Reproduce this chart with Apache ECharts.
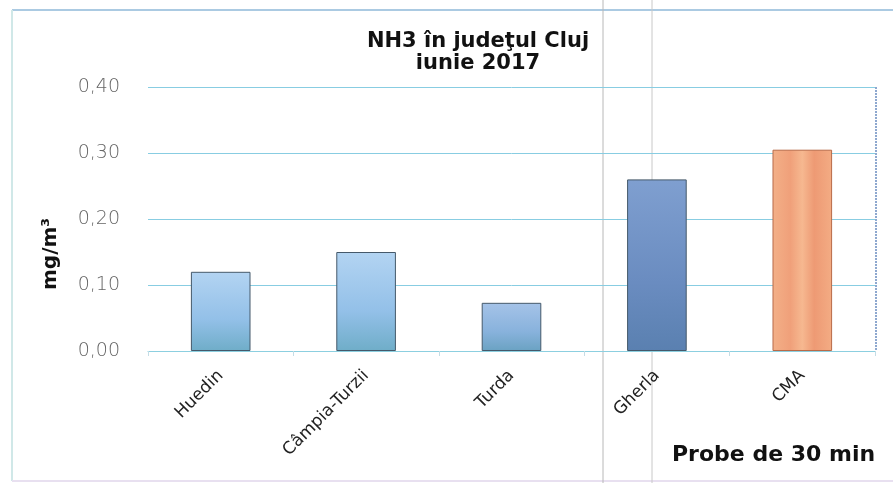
<!DOCTYPE html>
<html>
<head>
<meta charset="utf-8">
<script src="https://cdn.jsdelivr.net/npm/echarts@6/dist/echarts.min.js"></script>
<style>html,body{margin:0;padding:0;background:#fff}#c{width:893px;height:483px}</style>
</head>
<body>
<div id="c"></div>
<script>
const categories = ['Huedin', 'Câmpia-Turzii', 'Turda', 'Gherla', 'CMA'];
const values = [0.12, 0.15, 0.073, 0.26, 0.305];
const yTicks = [0, 0.1, 0.2, 0.3, 0.4];
const titleLines = ['NH3 în judeţul Cluj', 'iunie 2017'];
const yName = 'mg/m³';
const note = 'Probe de 30 min';

const grad = (c1, c2, c3) => new echarts.graphic.LinearGradient(0, 0, 0, 1, [
  {offset: 0, color: c1}, {offset: 0.6, color: c2}, {offset: 1, color: c3}
]);
const barStyles = [
  grad('#b3d4f2', '#93c0e8', '#6fadc8'),
  grad('#b3d4f2', '#93c0e8', '#6fadc8'),
  grad('#a5c3e8', '#88b2dc', '#6aa2c2'),
  grad('#7f9fd0', '#6a8cc0', '#5a80b0'),
  new echarts.graphic.LinearGradient(0, 0, 1, 0, [
    {offset: 0, color: '#f3b088'}, {offset: 0.3, color: '#f0a07a'}, {offset: 0.5, color: '#f6b890'},
    {offset: 0.7, color: '#ee9a74'}, {offset: 1, color: '#f3ac84'}
  ])
];

const chart = echarts.init(document.getElementById('c'));
chart.setOption({
  animation: false,
  backgroundColor: '#fff',
  title: {
    text: titleLines.join('\n'),
    left: 473, top: 26, textAlign: 'center',
    textStyle: {fontFamily: 'DejaVu Sans', fontSize: 21, fontWeight: 'bold', color: '#111', lineHeight: 22}
  },
  grid: {left: 148, right: 18, top: 87, bottom: 132},
  xAxis: {
    type: 'category', data: categories,
    axisLine: {lineStyle: {color: '#8ccfe0'}},
    axisTick: {show: true, lineStyle: {color: '#c4dde6'}},
    axisLabel: {rotate: 45, fontFamily: 'DejaVu Sans', fontSize: 17, color: '#222', margin: 22}
  },
  yAxis: {
    type: 'value', min: 0, max: 0.4, interval: 0.1,
    axisLine: {show: false}, axisTick: {show: false},
    axisLabel: {fontFamily: 'DejaVu Sans', fontSize: 19, fontWeight: 200, color: '#666', margin: 28,
      formatter: v => yTicks.includes(Math.round(v * 10) / 10) ? v.toFixed(2).replace('.', ',') : ''},
    splitLine: {lineStyle: {color: '#88cde2', width: 1}}
  },
  series: [{
    type: 'bar', barWidth: '41%',
    data: values.map((v, i) => ({value: v, itemStyle: {color: barStyles[i], borderColor: i === 4 ? '#b86a48' : '#45596a', borderWidth: 1}}))
  }],
  graphic: [
    {type: 'line', shape: {x1: 12, y1: 10, x2: 893, y2: 10}, style: {stroke: '#8fb8d8', lineWidth: 1.5}},
    {type: 'line', shape: {x1: 12, y1: 10, x2: 12, y2: 481}, style: {stroke: '#d0e8e8', lineWidth: 2}},
    {type: 'line', shape: {x1: 12, y1: 481, x2: 893, y2: 481}, style: {stroke: '#e8e0f0', lineWidth: 2}},
    {type: 'line', shape: {x1: 876, y1: 87, x2: 876, y2: 351}, style: {stroke: '#6a8cc0', lineWidth: 1.5, lineDash: [2, 1]}},
    {type: 'line', shape: {x1: 603, y1: 0, x2: 603, y2: 483}, style: {stroke: '#b8b8b8', lineWidth: 1}},
    {type: 'line', shape: {x1: 652, y1: 0, x2: 652, y2: 483}, style: {stroke: '#c8c8c8', lineWidth: 1}},
    {type: 'text', x: 51, y: 254, rotation: Math.PI / 2,
      style: {text: yName, font: 'bold 20px "DejaVu Sans"', fill: '#111', align: 'center', verticalAlign: 'middle'}},
    {type: 'text', left: 672, top: 444, style: {text: note, font: 'bold 22px "DejaVu Sans"', fill: '#111'}}
  ]
});
</script>
</body>
</html>
